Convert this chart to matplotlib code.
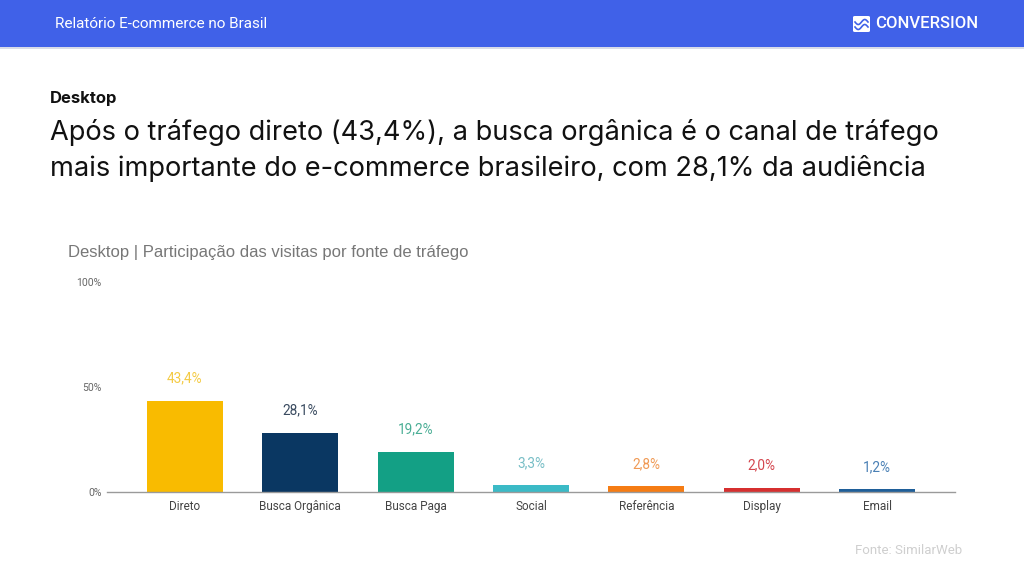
import matplotlib
matplotlib.use("Agg")
import matplotlib.pyplot as plt
from matplotlib.patches import Rectangle, FancyBboxPatch
import numpy as np

plt.rcParams['font.family'] = ['Roboto', 'DejaVu Sans']

categories = ["Direto", "Busca Orgânica", "Busca Paga", "Social", "Referência", "Display", "Email"]
values = [43.4, 28.1, 19.2, 3.3, 2.8, 2.0, 1.2]
value_labels = ["43,4%", "28,1%", "19,2%", "3,3%", "2,8%", "2,0%", "1,2%"]
bar_colors = ["#F9BB00", "#0A3762", "#13A085", "#3BBAC6", "#F57C14", "#D62F2F", "#1F5F99"]
label_colors = ["#F4CB45", "#3A4B60", "#4AAE95", "#78BEC6", "#F09A55", "#D4464E", "#4A80B5"]
ytick_vals = [0, 50, 100]
ytick_labels = ["0%", "50%", "100%"]

W, H = 1024, 576
fig = plt.figure(figsize=(W / 100, H / 100), dpi=100)
fig.patch.set_facecolor("white")

def fx(x):
    return x / W

def fy(y):
    return 1 - y / H

# Header band
fig.add_artist(Rectangle((0, fy(47)), 1, 47 / H, transform=fig.transFigure,
                         facecolor="#4061E8", edgecolor="none", zorder=0))
fig.add_artist(Rectangle((0, fy(49)), 1, 2 / H, transform=fig.transFigure,
                         facecolor="#D8DCE8", edgecolor="none", zorder=0))
fig.text(fx(55), fy(24), "Relatório E-commerce no Brasil", color="white",
         fontsize=11, va="center", ha="left")
# Logo
fig.add_artist(FancyBboxPatch((fx(853), fy(32)), 17 / W, 16 / H,
                              boxstyle="round,pad=0,rounding_size=0.002",
                              transform=fig.transFigure, facecolor="white",
                              edgecolor="none"))
t = np.linspace(0, 1, 30)
for off in (0.0, 5.0):
    xs = 855 + 13 * t
    ys = 27 - off + 2.5 * np.sin(t * 2 * np.pi)
    fig.add_artist(plt.Line2D(fx(xs), fy(ys), transform=fig.transFigure,
                              color="#4061E8", lw=1.2))
fig.text(fx(875), fy(24), "CONVERSION", color="white", fontsize=12,
         fontweight="medium", va="center", ha="left")

# Headline
fig.text(fx(50), fy(98), "Desktop", fontsize=12, fontweight="bold",
         color="#111111", va="center", ha="left", family=['Inter', 'DejaVu Sans'])
fig.text(fx(50), fy(133), "Após o tráfego direto (43,4%), a busca orgânica é o canal de tráfego",
         fontsize=19.6, color="#111111", va="center", ha="left", family=['Inter', 'DejaVu Sans'])
fig.text(fx(50), fy(168), "mais importante do e-commerce brasileiro, com 28,1% da audiência",
         fontsize=19.6, color="#111111", va="center", ha="left", family=['Inter', 'DejaVu Sans'])

# Chart title
fig.text(fx(68), fy(253), "Desktop | Participação das visitas por fonte de tráfego",
         fontsize=12, color="#777777", va="center", ha="left",
         family=['Liberation Sans', 'DejaVu Sans'])

# Footer
fig.text(fx(855), fy(551), "Fonte: SimilarWeb", fontsize=9.5, color="#CFCFCF",
         va="center", ha="left")

# Axes
ax = fig.add_axes([fx(107), fy(492), (955 - 107) / W, (492 - 282) / H])
x = np.arange(len(categories))
ax.bar(x, values, width=0.66, color=bar_colors, zorder=2)
ax.set_xlim(-0.675, len(categories) - 1 + 0.675)
ax.set_ylim(0, 100)
ax.set_facecolor("none")
for s in ["top", "right", "left"]:
    ax.spines[s].set_visible(False)
ax.spines["bottom"].set_color("#9A9A9A")
ax.spines["bottom"].set_linewidth(1.0)
ax.spines["bottom"].set_zorder(3)
ax.set_yticks(ytick_vals)
ax.set_yticklabels(ytick_labels, fontsize=7.5, color="#666666")
ax.tick_params(axis="y", length=0, pad=4)
ax.set_xticks(x)
ax.set_xticklabels(categories, fontsize=8.5, color="#444444")
ax.tick_params(axis="x", length=0, pad=6)

for xi, v, lab, c in zip(x, values, value_labels, label_colors):
    ax.annotate(lab, (xi, v), xytext=(0, 16), textcoords="offset points",
                ha="center", va="center", fontsize=9.8, color=c)

fig.savefig("out.png", dpi=100, facecolor="white")
